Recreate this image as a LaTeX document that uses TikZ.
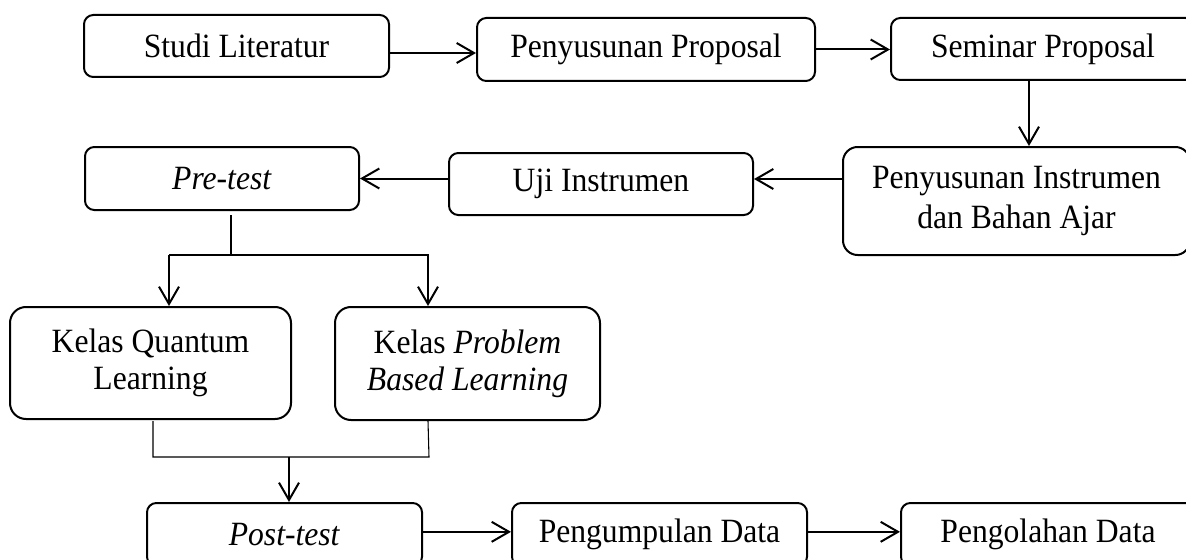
\documentclass[tikz,border=0pt]{standalone}
\usepackage{fontspec}
\setmainfont[FakeStretch=0.93]{Liberation Serif}
\usetikzlibrary{arrows.meta}
\tikzset{
  box/.style 2 args={draw, line width=1.5pt, rounded corners=7pt, align=center,
    minimum width=#1*0.75pt, minimum height=#2*0.75pt, inner sep=0pt,
    font=\fontsize{25.5}{29}\selectfont},
  arr/.style={line width=1.5pt, -{Straight Barb[length=13pt,width=15pt,line width=1.5pt]}},
  thin/.style={line width=0.8pt}
}
\begin{document}
\begin{tikzpicture}[x=0.75pt,y=-0.75pt]
\useasboundingbox (0,0) rectangle (1186,560);
\node[box={305}{62}] (studi) at (236.5,46) {Studi Literatur};
\node[box={338}{63}] (pp) at (646,49.5) {Penyusunan Proposal};
\node[box={304}{62}] (sem) at (1043,49) {Seminar Proposal};
\node[box={347}{108}, rounded corners=11pt, font=\fontsize{25.5}{30}\selectfont] (instr) at (1016.5,201) {Penyusunan Instrumen\\dan Bahan Ajar};
\node[box={304}{62}] (uji) at (601,184) {Uji Instrumen};
\node[box={274}{63}] (pre) at (222,178.5) {\textit{Pre-test}};
\node[box={281}{112}, rounded corners=12pt, font=\fontsize{25.5}{28}\selectfont] (kq) at (150.5,363) {Kelas Quantum\\Learning};
\node[box={265}{113}, rounded corners=12pt, font=\fontsize{25.5}{28}\selectfont] (pbl) at (467.5,363.5) {Kelas \textit{Problem}\\\textit{Based Learning}};
\node[box={275}{63}] (post) at (284.5,534.5) {\textit{Post-test}};
\node[box={295}{63}] (peng) at (659.5,534.5) {Pengumpulan Data};
\node[box={294}{63}] (olah) at (1048,534.5) {Pengolahan Data};

% top row
\draw[arr] ([yshift=-5.25pt]studi.east) -- ([yshift=-5.25pt]studi.east -| pp.west);
\draw[arr] (pp.east) -- (pp.east -| sem.west);
\draw[arr] ([xshift=-10.5pt]sem.south) -- ([xshift=-10.5pt]sem.south |- instr.north);
% second row
\draw[arr] ([yshift=3.75pt]uji.east -| instr.west) -- ([yshift=3.75pt]uji.east);
\draw[arr] (uji.west |- pre.east) -- (pre.east);
% split from pre-test
\coordinate (s0) at (231,215);
\coordinate (s1) at (231,255);
\coordinate (sl) at (169,255);
\coordinate (sr) at (429,255);
\draw[thin] (s0) -- (s1);
\draw[thin] (sl) -- (sr);
\draw[arr] (sl) -- (sl |- kq.north);
\draw[arr] ([xshift=-0.75pt]sr) -- ([xshift=-0.75pt]sr |- pbl.north);
% merge to post-test
\coordinate (m1) at (153,421);
\coordinate (m2) at (428,421);
\coordinate (ml) at (153,457);
\coordinate (mr) at (429,457);
\coordinate (mc) at (289,457);
\draw[thin] (m1) -- (ml) -- (mr) -- (m2);
\draw[arr] (mc) -- (mc |- post.north);
% bottom row
\draw[arr] ([yshift=2pt]post.east) -- ([yshift=2pt]post.east -| peng.west);
\draw[arr] ([yshift=2pt]peng.east) -- ([yshift=2pt]peng.east -| olah.west);
\end{tikzpicture}
\end{document}
